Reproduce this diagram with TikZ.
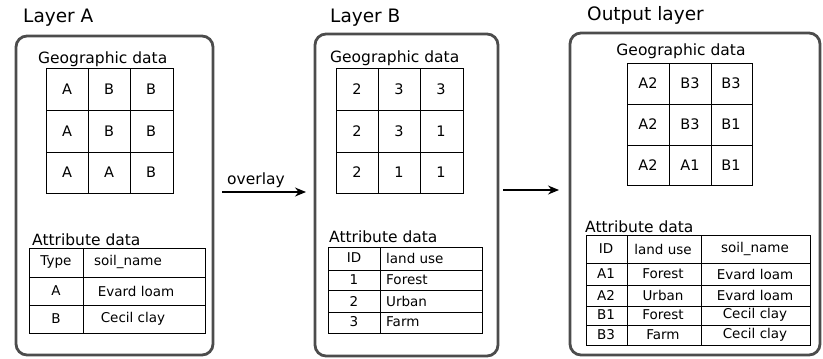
\documentclass[tikz,border=0pt]{standalone}
\usepackage{fontspec}
\setmainfont{DejaVu Sans}
\usetikzlibrary{arrows.meta}
\begin{document}
\begin{tikzpicture}[x=1pt,y=-1pt,
  layerbox/.style={draw=black!70, line width=2.8pt, rounded corners=11pt},
  gridline/.style={draw=black, line width=0.8pt},
  title/.style={font=\fontsize{18.5}{18.5}\selectfont, inner sep=0pt},
  heading/.style={font=\fontsize{15.5}{15.5}\selectfont, inner sep=0pt},
  cell/.style={font=\fontsize{14.5}{14.5}\selectfont, inner sep=0pt},
  entry/.style={font=\fontsize{13.5}{13.5}\selectfont, inner sep=0pt},
  flow/.style={draw=black, line width=1.3pt, -{Stealth[length=11pt,width=9pt]}}]
\useasboundingbox (0,0) rectangle (823,359);

% ---------- Layer A ----------
\node[title, anchor=west] (tA) at (23,18) {Layer A};
\draw[layerbox] (16,36) rectangle (213,355);
\node[heading, anchor=west] (gA) at (38,59) {Geographic data};
\draw[gridline] (46,68) rectangle (173,193);
\draw[gridline] (88,68) -- (88,193) (130,68) -- (130,193)
                (46,110) -- (173,110) (46,152) -- (173,152);
\foreach \x/\y/\t/\n in {67/89/A/a11, 109/89/B/a12, 151/89/B/a13,
                         67/131/A/a21, 109/131/B/a22, 151/131/B/a23,
                         67/172/A/a31, 109/172/A/a32, 151/172/B/a33}
  \node[cell] (\n) at (\x,\y) {\t};
\node[heading, anchor=west] (atA) at (32,240) {Attribute data};
\draw[gridline] (29,248) rectangle (205,333);
\draw[gridline] (83,248) -- (83,333) (29,277) -- (205,277) (29,305) -- (205,305);
\foreach \x/\y/\t/\n in {56/262/Type/ta1, 128/262/soil\_name/ta2,
                         56/291/A/ta3, 136/291/Evard loam/ta4,
                         56/319/B/ta5, 133/319/Cecil clay/ta6}
  \node[entry] (\n) at (\x,\y) {\t};

% ---------- overlay arrow ----------
\coordinate (ovs) at (222,192);
\coordinate (ove) at (306,192);
\draw[flow] (ovs) -- (ove);
\node[heading] (ovl) at (256,180) {overlay};

% ---------- Layer B ----------
\node[title, anchor=west] (tB) at (330,18) {Layer B};
\draw[layerbox] (315,34) rectangle (498,356);
\node[heading, anchor=west] (gB) at (330,58) {Geographic data};
\draw[gridline] (336,68) rectangle (463,193);
\draw[gridline] (378,68) -- (378,193) (420,68) -- (420,193)
                (336,110) -- (463,110) (336,152) -- (463,152);
\foreach \x/\y/\t/\n in {357/89/2/b11, 399/89/3/b12, 441/89/3/b13,
                         357/131/2/b21, 399/131/3/b22, 441/131/1/b23,
                         357/172/2/b31, 399/172/1/b32, 441/172/1/b33}
  \node[cell] (\n) at (\x,\y) {\t};
\node[heading, anchor=west] (atB) at (329,237) {Attribute data};
\draw[gridline] (328,247) rectangle (482,333);
\draw[gridline] (380,247) -- (380,333) (328,270) -- (482,270)
                (328,290) -- (482,290) (328,312) -- (482,312);
\foreach \y/\t/\n in {258/ID/tb1, 280/1/tb3, 301/2/tb5, 322/3/tb7}
  \node[entry] (\n) at (354,\y) {\t};
\foreach \y/\t/\n in {258/land use/tb2, 280/Forest/tb4, 301/Urban/tb6, 322/Farm/tb8}
  \node[entry, anchor=west] (\n) at (386,\y) {\t};

% ---------- second arrow ----------
\coordinate (rs) at (503,190);
\coordinate (re) at (559,190);
\draw[flow] (rs) -- (re);

% ---------- Output layer ----------
\node[title, anchor=west] (tO) at (587,15) {Output layer};
\draw[layerbox] (570,33) rectangle (820,355);
\node[heading] (gO) at (681,51) {Geographic data};
\draw[gridline] (627,63) rectangle (752,185);
\draw[gridline] (669,63) -- (669,185) (711,63) -- (711,185)
                (627,104) -- (752,104) (627,145) -- (752,145);
\foreach \x/\y/\t/\n in {648/83/A2/o11, 690/83/B3/o12, 731/83/B3/o13,
                         648/124/A2/o21, 690/124/B3/o22, 731/124/B1/o23,
                         648/165/A2/o31, 690/165/A1/o32, 731/165/B1/o33}
  \node[cell] (\n) at (\x,\y) {\t};
\node[heading, anchor=west] (atO) at (585,227) {Attribute data};
\draw[gridline] (586,235) rectangle (810,345);
\draw[gridline] (627,235) -- (627,345) (701,235) -- (701,345)
                (586,263) -- (810,263) (586,285) -- (810,285)
                (586,306) -- (810,306) (586,325) -- (810,325);
\foreach \y/\a/\b/\c/\n in {249/ID/land use/soil\_name/h,
                            274/A1/Forest/Evard loam/r1,
                            295/A2/Urban/Evard loam/r2,
                            315/B1/Forest/Cecil clay/r3,
                            335/B3/Farm/Cecil clay/r4}
{
  \node[entry] (\n a) at (606,\y) {\a};
  \node[entry] (\n b) at (663,\y) {\b};
  \node[entry] (\n c) at (755,\y) {\c};
}
\end{tikzpicture}
\end{document}
